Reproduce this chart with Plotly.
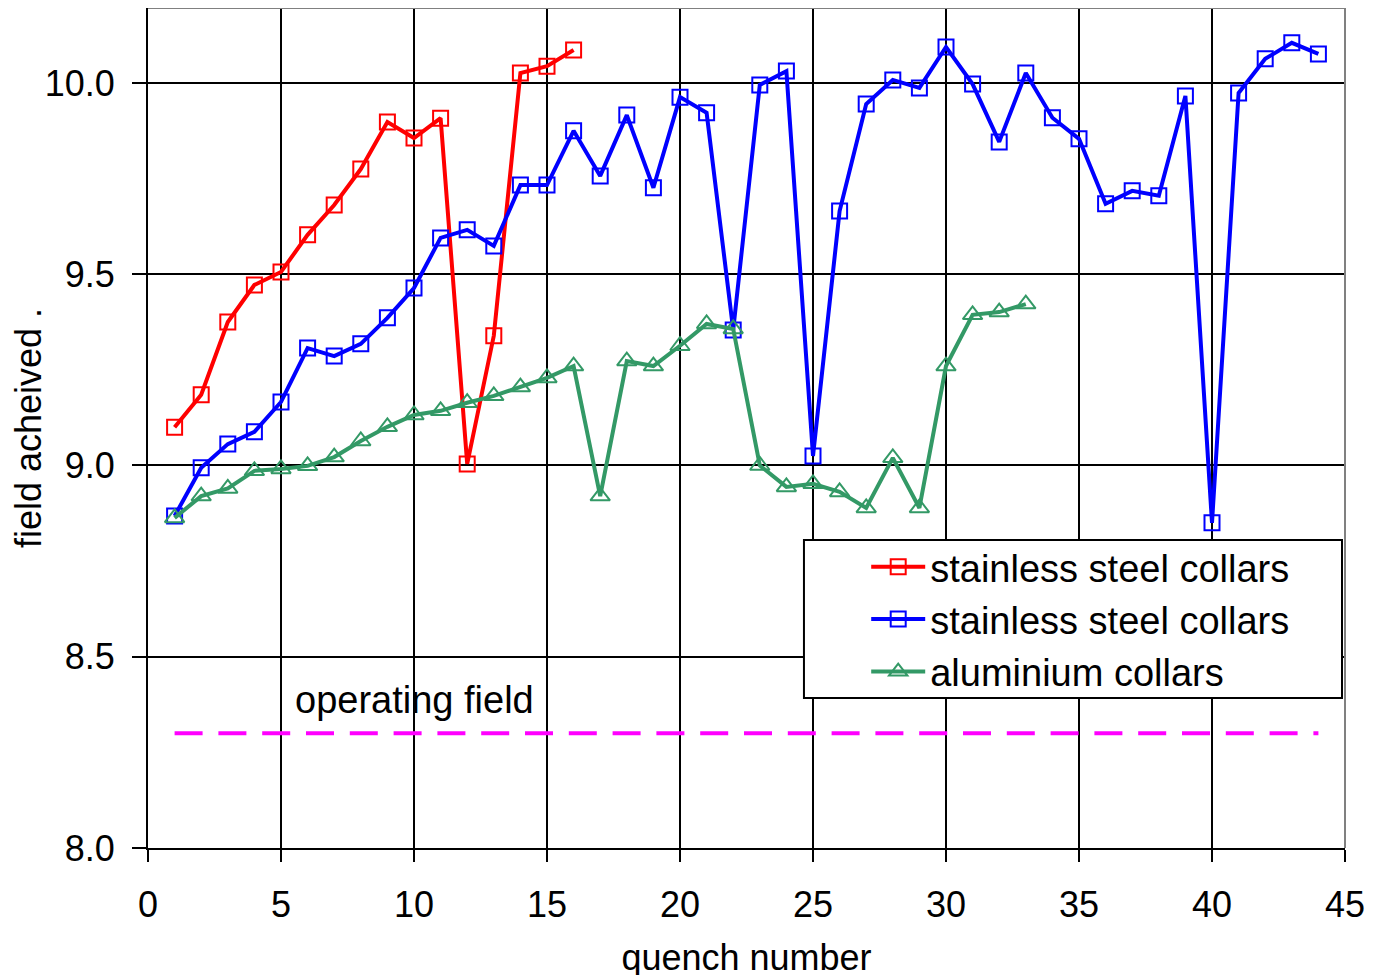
import plotly.graph_objects as go

quench_red = list(range(1, 17))
field_red = [9.10, 9.185, 9.375, 9.472, 9.506, 9.603, 9.681, 9.775, 9.898, 9.856,
             9.908, 9.004, 9.339, 10.026, 10.044, 10.086]

quench_blue = list(range(1, 45))
field_blue = [8.868, 8.994, 9.056, 9.088, 9.166, 9.307, 9.286, 9.318, 9.386, 9.464,
              9.595, 9.616, 9.574, 9.733, 9.733, 9.875, 9.757, 9.916, 9.726, 9.963,
              9.922, 9.354, 9.995, 10.031, 9.025, 9.665, 9.945, 10.008, 9.987, 10.094,
              9.997, 9.846, 10.026, 9.909, 9.854, 9.684, 9.718, 9.705, 9.966, 8.850,
              9.974, 10.063, 10.105, 10.076]

quench_green = list(range(1, 34))
field_green = [8.863, 8.92, 8.94, 8.986, 8.991, 8.999, 9.022, 9.064, 9.101, 9.132,
               9.143, 9.164, 9.182, 9.205, 9.229, 9.260, 8.92, 9.273, 9.260, 9.313,
               9.370, 9.357, 9.0, 8.944, 8.952, 8.931, 8.889, 9.020, 8.889, 9.260,
               9.394, 9.401, 9.422]

operating_x = [1, 44]
operating_y = [8.3, 8.3]

names = ["stainless steel collars", "stainless steel collars", "aluminium collars"]
colors = ["#FF0000", "#0000FF", "#339966"]

FONT = "Liberation Sans, Arial, sans-serif"

fig = go.Figure()

fig.add_trace(go.Scatter(
    x=operating_x, y=operating_y, mode="lines", showlegend=False,
    line=dict(color="#FF00FF", width=4, dash="28px,15.8px"), hoverinfo="skip"))

fig.add_trace(go.Scatter(
    x=quench_red, y=field_red, mode="lines+markers", name=names[0], legendgroup="a",
    line=dict(color=colors[0], width=4),
    marker=dict(symbol="square-open", size=15, color=colors[0], line=dict(width=2, color=colors[0]))))
fig.add_trace(go.Scatter(
    x=quench_blue, y=field_blue, mode="lines+markers", name=names[1], legendgroup="b",
    line=dict(color=colors[1], width=4),
    marker=dict(symbol="square-open", size=15, color=colors[1], line=dict(width=2, color=colors[1]))))
fig.add_trace(go.Scatter(
    x=quench_green, y=field_green, mode="lines+markers", name=names[2], legendgroup="c",
    line=dict(color=colors[2], width=4),
    marker=dict(symbol="triangle-up-open", size=17, color=colors[2], line=dict(width=2, color=colors[2]))))

fig.update_layout(
    width=1381, height=975,
    margin=dict(l=140, r=44, t=0, b=135, autoexpand=False),
    paper_bgcolor="white", plot_bgcolor="white",
    font=dict(family=FONT, size=36, color="black"),
    showlegend=True,
    legend=dict(
        x=0.60, y=0.372, xanchor="left", yanchor="top",
        bgcolor="rgba(0,0,0,0)", borderwidth=0,
        font=dict(family=FONT, size=38, color="black"),
        tracegroupgap=0, itemwidth=54,
    ),
    annotations=[dict(
        x=10, y=8.387, xref="x", yref="y", text="operating field", showarrow=False,
        xanchor="center", yanchor="middle", font=dict(family=FONT, size=38, color="black"))],
    shapes=[
        dict(type="rect", xref="paper", yref="paper", x0=0.548, x1=0.9975, y0=0.1786, y1=0.3667,
             line=dict(color="black", width=2), fillcolor="white", layer="above"),
        dict(type="line", xref="paper", yref="paper", x0=0, x1=1, y0=1, y1=1,
             line=dict(color="#808080", width=2)),
        dict(type="line", xref="paper", yref="paper", x0=1, x1=1, y0=0, y1=1,
             line=dict(color="#808080", width=2)),
    ],
)

fig.update_xaxes(
    range=[0, 45], tick0=0, dtick=5, showgrid=True, gridcolor="black", gridwidth=2,
    zeroline=False, showline=True, linecolor="black", linewidth=2,
    ticks="outside", ticklen=12, tickwidth=2, tickcolor="black", ticklabelstandoff=12,
    tickfont=dict(family=FONT, size=36, color="black"),
    title=dict(text="quench number", font=dict(family=FONT, size=36, color="black"), standoff=21),
)
fig.update_yaxes(
    range=[8.0, 10.196], tick0=8.0, dtick=0.5, tickformat=".1f", showgrid=True,
    gridcolor="black", gridwidth=2, zeroline=False, showline=True, linecolor="black", linewidth=2,
    ticks="outside", ticklen=14, tickwidth=2, tickcolor="black", ticklabelstandoff=10,
    tickfont=dict(family=FONT, size=36, color="black"),
    title=dict(text="field acheived .", font=dict(family=FONT, size=36, color="black"), standoff=4),
)

fig.write_html("out.html")
